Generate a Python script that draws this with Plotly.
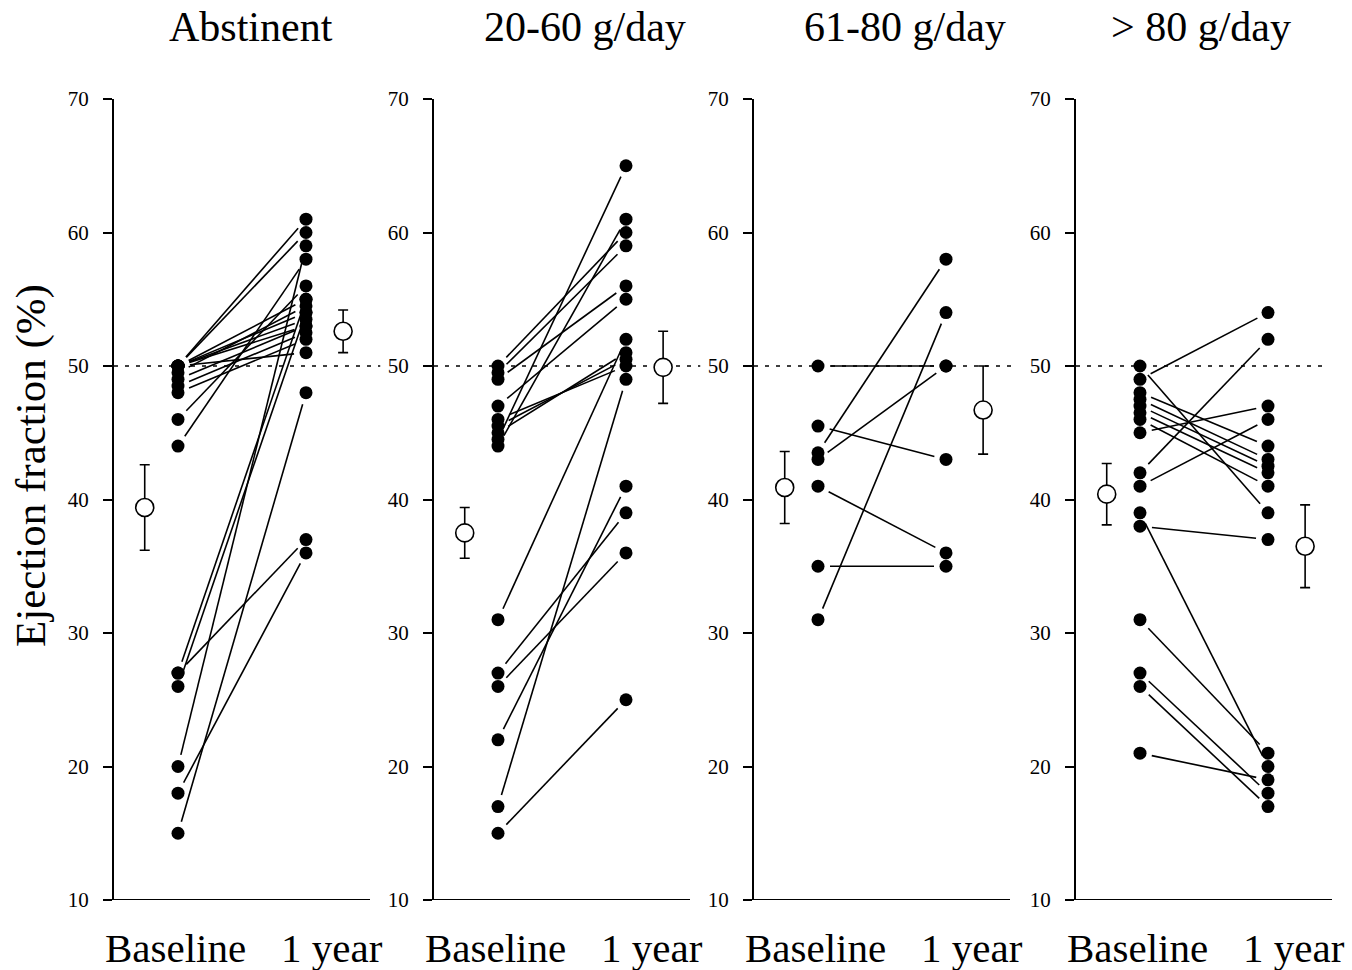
import plotly.graph_objects as go

# ---------------- data ----------------
panel_titles = ["Abstinent", "20-60 g/day", "61-80 g/day", "> 80 g/day"]
time_labels = ["Baseline", "1 year"]
y_ticks = [10, 20, 30, 40, 50, 60, 70]
ref_value = 50

abst_baseline = [50, 50, 50, 50, 50, 50, 50, 49.5, 49, 48.5, 48, 46, 44, 27, 27, 26, 20, 18, 15]
abst_1year    = [61, 60, 55, 54, 53.5, 53, 51, 54.5, 53, 52.5, 52, 56, 58, 37, 55, 54, 59, 36, 48]

g2060_baseline = [50, 49.5, 49, 47, 46, 45.5, 45, 44.5, 44, 31, 27, 26, 22, 17, 15]
g2060_1year    = [60, 59, 56, 55, 50, 50.5, 51, 65, 61, 52, 39, 36, 41, 49, 25]

g6180_baseline = [50, 45.5, 43.5, 43, 41, 35, 31]
g6180_1year    = [50, 43, 58, 50, 36, 35, 54]

g80_baseline = [50, 49, 48, 47.5, 47, 46.5, 46, 45, 42, 41, 39, 38, 31, 27, 26, 21]
g80_1year    = [39, 54, 44, 43, 42.5, 42, 41, 47, 52, 46, 20, 37, 21, 18, 17, 19]

baseline_mean = [39.4, 37.5, 40.9, 40.4]
baseline_sem  = [3.2, 1.9, 2.7, 2.3]
year_mean     = [52.6, 49.9, 46.7, 36.5]
year_sem      = [1.6, 2.7, 3.3, 3.1]

baselines = [abst_baseline, g2060_baseline, g6180_baseline, g80_baseline]
years = [abst_1year, g2060_1year, g6180_1year, g80_1year]

# ---------------- layout geometry ----------------
W, H = 1352, 970
FONT = "Liberation Serif, Times New Roman, serif"
axis_left_px = [114, 434, 754, 1076]
px_per_x = 128.0
x_range = [0.5, 2.6]
y_range = [10, 70]
y_top_px, y_bot_px = 99, 900
px_per_y = (y_bot_px - y_top_px) / (y_range[1] - y_range[0])
ref_end = [2.58, 2.58, 2.56, 2.47]
title_x = [1.57, 1.68, 1.68, 1.48]
mean_x = [0.74, 2.29]
label_x = [0.98, 2.2]
gap_px = 12

fig = go.Figure()
shapes = []
annotations = []

for i in range(4):
    ax = "" if i == 0 else str(i + 1)
    xr, yr = "x" + ax, "y" + ax
    b, a = baselines[i], years[i]

    # connecting lines (shortened so they stop short of the dots)
    lx, ly = [], []
    for y1, y2 in zip(b, a):
        dx = px_per_x
        dy = (y2 - y1) * px_per_y
        L = (dx * dx + dy * dy) ** 0.5
        t = gap_px / L
        lx += [1 + t, 2 - t, None]
        ly += [y1 + t * (y2 - y1), y2 - t * (y2 - y1), None]
    fig.add_trace(go.Scatter(x=lx, y=ly, mode="lines", xaxis=xr, yaxis=yr,
                             line=dict(color="black", width=1.6),
                             showlegend=False, hoverinfo="skip"))

    # individual points
    fig.add_trace(go.Scatter(x=[1] * len(b) + [2] * len(a), y=b + a, mode="markers",
                             xaxis=xr, yaxis=yr,
                             marker=dict(color="black", size=13),
                             showlegend=False))

    # group means +/- error
    fig.add_trace(go.Scatter(x=mean_x, y=[baseline_mean[i], year_mean[i]], mode="markers",
                             xaxis=xr, yaxis=yr,
                             error_y=dict(type="data", array=[baseline_sem[i], year_sem[i]],
                                          color="black", thickness=1.6, width=5),
                             marker=dict(color="white", size=18, symbol="circle",
                                         line=dict(color="black", width=1.6)),
                             showlegend=False))

    left = axis_left_px[i]
    right = left + (x_range[1] - x_range[0]) * px_per_x
    fig.update_layout(**{
        "xaxis" + ax: dict(domain=[left / W, right / W], range=x_range, visible=False,
                           anchor=yr),
        "yaxis" + ax: dict(domain=[(H - y_bot_px) / H, (H - y_top_px) / H], range=y_range,
                           anchor=xr, showline=True, linecolor="black", linewidth=2,
                           ticks="outside", ticklen=9, tickwidth=2, tickcolor="black",
                           tickvals=y_ticks, ticklabelstandoff=10,
                           tickfont=dict(family=FONT, size=21, color="black"),
                           showgrid=False, zeroline=False),
    })

    # x axis line and 50 % reference line
    shapes.append(dict(type="line", xref=xr, yref=yr, x0=x_range[0], x1=2.5,
                       y0=y_range[0], y1=y_range[0], line=dict(color="black", width=2)))
    shapes.append(dict(type="line", xref=xr, yref=yr, x0=x_range[0], x1=ref_end[i],
                       y0=ref_value, y1=ref_value, layer="below",
                       line=dict(color="black", width=1.6, dash="4px,7px")))

    # category labels & titles
    for lx_, lab in zip(label_x, time_labels):
        annotations.append(dict(text=lab, xref=xr, yref="paper", x=lx_, y=1 - 948 / H,
                                xanchor="center", yanchor="middle", showarrow=False,
                                font=dict(family=FONT, size=41, color="black")))
    annotations.append(dict(text=panel_titles[i], xref=xr, yref="paper", x=title_x[i],
                            y=1 - 27 / H, xanchor="center", yanchor="middle", showarrow=False,
                            font=dict(family=FONT, size=42, color="black")))

annotations.append(dict(text="Ejection fraction (%)", xref="paper", yref="paper",
                        x=31 / W, y=1 - 466 / H, textangle=-90, xanchor="center",
                        yanchor="middle", showarrow=False,
                        font=dict(family=FONT, size=43, color="black")))

fig.update_layout(width=W, height=H, margin=dict(l=0, r=0, t=0, b=0),
                  template="none", paper_bgcolor="white", plot_bgcolor="white",
                  shapes=shapes, annotations=annotations, showlegend=False,
                  font=dict(family=FONT, color="black"))

fig.write_html("out.html")
